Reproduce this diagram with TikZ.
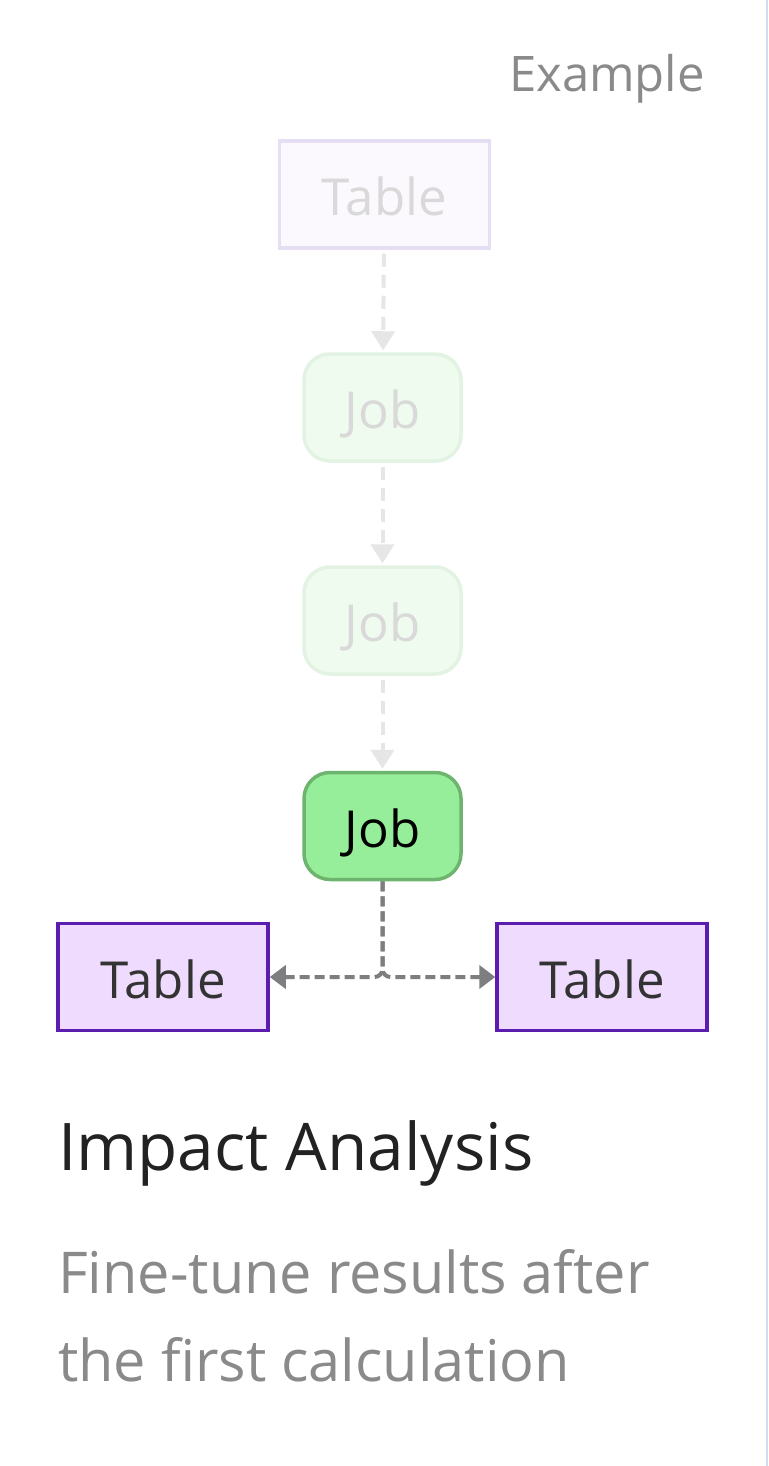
\documentclass[tikz,border=0pt]{standalone}
\usepackage{fontspec}
\setmainfont{Open Sans}
\usetikzlibrary{arrows.meta}
\definecolor{fadefill}{HTML}{FBF8FE}
\definecolor{fadeline}{HTML}{E6DEF3}
\definecolor{fadejobfill}{HTML}{EFFBEF}
\definecolor{fadejobline}{HTML}{E3F3E3}
\definecolor{fadetext}{HTML}{D9D9D9}
\definecolor{fadearrow}{HTML}{E6E6E6}
\definecolor{jobfill}{HTML}{97EE9A}
\definecolor{jobline}{HTML}{6DB56F}
\definecolor{tablefill}{HTML}{EEDBFE}
\definecolor{tableline}{HTML}{5B1CB0}
\definecolor{tabletext}{HTML}{333333}
\definecolor{connline}{HTML}{7E7E81}
\definecolor{greytext}{HTML}{8A8A8A}
\definecolor{titletext}{HTML}{222222}
\definecolor{cardedge}{HTML}{D3DDF0}
\tikzset{
    box/.style={line width=3.5pt, inner sep=0pt, minimum height=107pt,
        text height=42pt, text depth=0pt, font=\fontsize{51}{60}\selectfont},
    tablebox/.style={box, minimum width=210pt},
    jobbox/.style={box, minimum width=157pt, rounded corners=26pt},
    fadearr/.style={draw=fadearrow, line width=4pt, dash pattern=on 13pt off 8pt,
        -{Triangle[length=19pt,width=23pt]}, shorten <=4pt, shorten >=2pt},
    conn/.style={draw=connline, line width=4pt, dash pattern=on 10pt off 5pt,
        -{Triangle[length=16pt,width=23pt]}, rounded corners=8pt}
}
\begin{document}
\begin{tikzpicture}[x=1pt, y=-1pt]
    \useasboundingbox[fill=white] (0,0) rectangle (768,1466);
    \draw[cardedge, line width=1.5pt] (767,0) -- (767,1466);
    % lineage chain
    \node (tabtop) [tablebox, draw=fadeline, fill=fadefill, text=fadetext] at (384.5,194.5) {Table};
    \node (job1) [jobbox, draw=fadejobline, fill=fadejobfill, text=fadetext] at (382.5,407.5) {Job};
    \node (job2) [jobbox, draw=fadejobline, fill=fadejobfill, text=fadetext] at (382.5,620.5) {Job};
    \node (job3) [jobbox, draw=jobline, fill=jobfill, text=black] at (382.5,826) {Job};
    \node (tabL) [tablebox, draw=tableline, fill=tablefill, text=tabletext] at (163,977) {Table};
    \node (tabR) [tablebox, draw=tableline, fill=tablefill, text=tabletext] at (602,977) {Table};
    \draw[fadearr] (tabtop) -- (job1);
    \draw[fadearr] (job1) -- (job2);
    \draw[fadearr] (job2) -- (job3);
    \draw[conn] (job3) |- (tabL);
    \draw[conn] (job3) |- (tabR);
    % texts
    \node (tag) [anchor=base east, inner sep=0pt, text=greytext, font=\fontsize{49}{58}\selectfont] at (705,92) {Example};
    \node (title) [anchor=base west, inner sep=0pt, text=titletext, font=\fontsize{65.7}{80}\selectfont] at (58,1170) {Impact Analysis};
    \node (sub1) [anchor=base west, inner sep=0pt, text=greytext, font=\fontsize{57.6}{70}\selectfont] at (58,1293) {Fine-tune results after};
    \node (sub2) [anchor=base west, inner sep=0pt, text=greytext, font=\fontsize{57.6}{70}\selectfont] at (58,1381) {the first calculation};
\end{tikzpicture}
\end{document}
